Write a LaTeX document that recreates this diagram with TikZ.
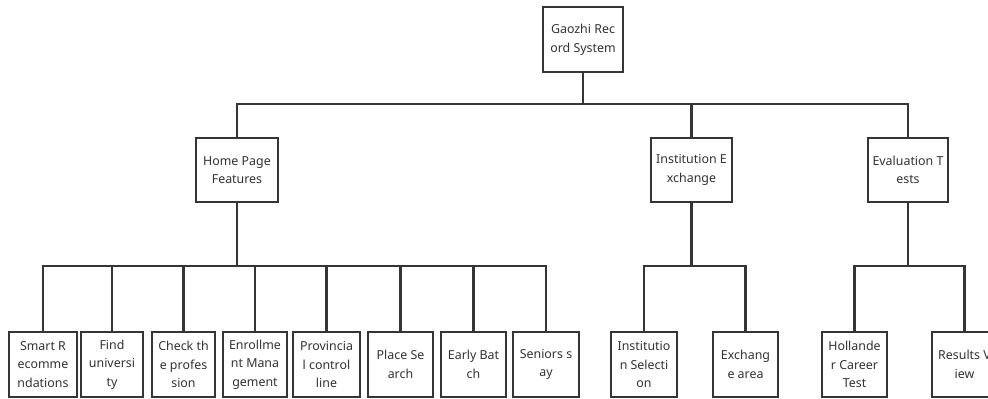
\documentclass[tikz,border=0pt]{standalone}
\usepackage{fontspec}
\setmainfont{Noto Sans}
\definecolor{ink}{HTML}{353535}
\definecolor{txt}{HTML}{333333}
\begin{document}
\begin{tikzpicture}[x=0.75pt,y=-0.75pt,
  box/.style={draw=ink,line width=1.6pt,fill=white,inner sep=0pt,align=center,
    text=txt,font=\fontsize{9.3}{14}\selectfont,minimum height=65*0.75pt},
  link/.style={draw=ink,line width=1.6pt}]
\useasboundingbox (0,0) rectangle (988,399);
\begin{scope}
\clip (0,0) rectangle (988,399);
% level 0
\node[box,minimum width=80*0.75pt] (root) at (583,39.5) {Gaozhi Rec\\ord System};
% level 1
\node[box,minimum width=82*0.75pt,minimum height=64*0.75pt] (home) at (237,170) {Home Page\\Features};
\node[box,minimum width=81*0.75pt,minimum height=64*0.75pt] (inst) at (691.5,170) {Institution E\\xchange};
\node[box,minimum width=80*0.75pt,minimum height=64*0.75pt] (eval) at (908,170) {Evaluation T\\ests};
% level 2
\node[box,minimum width=68*0.75pt] (b1) at (43,364.5) {Smart R\\ecomme\\ndations};
\node[box,minimum width=62*0.75pt] (b2) at (112,364.5) {Find\\universi\\ty};
\node[box,minimum width=63*0.75pt] (b3) at (183.5,364.5) {Check th\\e profes\\sion};
\node[box,minimum width=64*0.75pt] (b4) at (255,364.5) {Enrollme\\nt Mana\\gement};
\node[box,minimum width=67*0.75pt] (b5) at (326.5,364.5) {Provincia\\l control\\line};
\node[box,minimum width=65*0.75pt] (b6) at (400.5,364.5) {Place Se\\arch};
\node[box,minimum width=65*0.75pt] (b7) at (473.5,364.5) {Early Bat\\ch};
\node[box,minimum width=66*0.75pt] (b8) at (546,364.5) {Seniors s\\ay};
\node[box,minimum width=66*0.75pt] (i1) at (644,364.5) {Institutio\\n Selecti\\on};
\node[box,minimum width=65*0.75pt] (i2) at (745.5,364.5) {Exchang\\e area};
\node[box,minimum width=65*0.75pt] (e1) at (854.5,364.5) {Hollande\\r Career\\Test};
\node[box,minimum width=65*0.75pt] (e2) at (964.5,364.5) {Results V\\iew};
% bus levels
\coordinate (busA) at (0,104);
\coordinate (busB) at (0,266);
% connectors
\foreach \c in {home,inst,eval}
  \draw[link] (root.south) -- (root.south |- busA) -| (\c.north);
\foreach \c in {b1,b2,b3,b4,b5,b6,b7,b8}
  \draw[link] (home.south) -- (home.south |- busB) -| (\c.north);
\foreach \c in {i1,i2}
  \draw[link] (inst.south) -- (inst.south |- busB) -| (\c.north);
\foreach \c in {e1,e2}
  \draw[link] (eval.south) -- (eval.south |- busB) -| (\c.north);
\end{scope}
\end{tikzpicture}
\end{document}
